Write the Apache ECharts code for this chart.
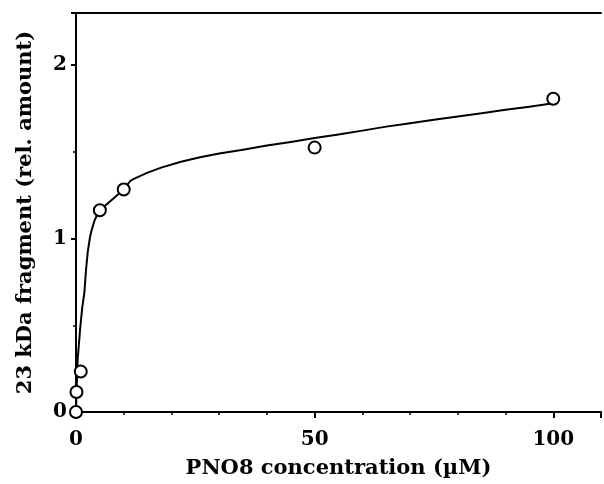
<!DOCTYPE html>
<html>
<head>
<meta charset="utf-8">
<script src="https://cdn.jsdelivr.net/npm/echarts@6/dist/echarts.min.js"></script>
<style>
html,body{margin:0;padding:0;background:#fff;overflow:hidden;}
#chart{width:604px;height:484px;}
</style>
</head>
<body>
<div id="chart"></div>
<script>
// Measured points
var concX = [0, 0.1, 1, 5, 10, 50, 100];
var amount = [0, 0.115, 0.233, 1.163, 1.283, 1.524, 1.806];
// Fitted curve
var curveX = [0, 0.1, 0.37, 0.87, 1.3, 1.76, 2.1, 2.45, 2.94, 3.4, 3.83, 4.4, 5,
              10, 11.4, 12, 15, 18, 22, 26, 30, 35, 40, 45, 50, 55, 60, 65, 70, 75, 80, 85, 90, 95, 100];
var curveY = [0, 0.115, 0.31, 0.48, 0.6, 0.69, 0.82, 0.92, 1.01, 1.06, 1.10, 1.135, 1.163,
              1.283, 1.333, 1.342, 1.38, 1.41, 1.443, 1.468, 1.49, 1.512, 1.536, 1.557, 1.579, 1.600, 1.622, 1.645, 1.665, 1.685, 1.703, 1.722, 1.742, 1.760, 1.78];
var xTicks = [0, 50, 100];
var yTicks = [0, 1, 2];

var font = 'DejaVu Serif';
var chart = echarts.init(document.getElementById('chart'));
chart.setOption({
  animation: false,
  backgroundColor: '#fff',
  grid: {left: 76, top: 13, right: -4, bottom: 70.5, containLabel: false},
  xAxis: [{
    type: 'value', min: 0, max: 110, interval: 50,
    name: 'PNO8 concentration (\u00b5M)', nameLocation: 'middle', nameGap: 46,
    nameTextStyle: {fontFamily: font, fontWeight: 'bold', fontSize: 21, color: '#000', padding: [0, 0, 0, 0]},
    axisLine: {show: true, lineStyle: {color: '#000', width: 2}},
    axisTick: {show: true, length: 6, lineStyle: {color: '#000', width: 2}},
    minorTick: {show: true, splitNumber: 5, length: 3, lineStyle: {color: '#000', width: 1.5}},
    splitLine: {show: false},
    axisLabel: {fontFamily: font, fontWeight: 'bold', fontSize: 20, color: '#000', margin: 18,
      formatter: function (v) { return xTicks.indexOf(v) >= 0 ? String(v) : ''; }}
  }, {
    type: 'value', position: 'top', min: 0, max: 110,
    axisLine: {show: true, onZero: false, lineStyle: {color: '#000', width: 2}},
    axisTick: {show: false}, axisLabel: {show: false}, splitLine: {show: false}
  }],
  yAxis: {
    type: 'value', min: 0, max: 2.3, interval: 1,
    name: '23 kDa fragment (rel. amount)', nameLocation: 'middle', nameGap: 40,
    nameTextStyle: {fontFamily: font, fontWeight: 'bold', fontSize: 21, color: '#000'},
    axisLine: {show: true, lineStyle: {color: '#000', width: 2}},
    axisTick: {show: true, length: 5, lineStyle: {color: '#000', width: 2}},
    minorTick: {show: true, splitNumber: 2, length: 3, lineStyle: {color: '#000', width: 1.5}},
    splitLine: {show: false},
    axisLabel: {fontFamily: font, fontWeight: 'bold', fontSize: 20, color: '#000', margin: 9,
      formatter: function (v) { return yTicks.indexOf(v) >= 0 ? String(v) : ''; }}
  },
  series: [
    {
      type: 'line',
      data: curveX.map(function (x, i) { return [x, curveY[i]]; }),
      smooth: false,
      showSymbol: false, symbol: 'none',
      lineStyle: {color: '#000', width: 2, join: 'round'},
      z: 2
    },
    {
      type: 'scatter',
      data: concX.map(function (x, i) { return [x, amount[i]]; }),
      symbol: 'circle', symbolSize: 12,
      itemStyle: {color: '#fff', borderColor: '#000', borderWidth: 2, opacity: 1},
      z: 3
    }
  ]
});
</script>
</body>
</html>
